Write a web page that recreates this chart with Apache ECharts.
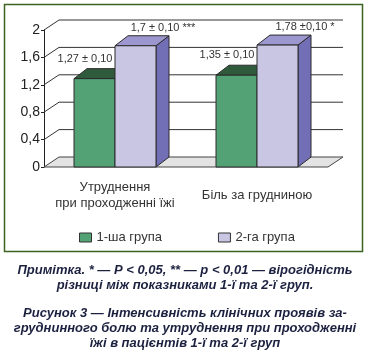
<!DOCTYPE html>
<html>
<head>
<meta charset="utf-8">
<script src="https://cdn.jsdelivr.net/npm/echarts@6/dist/echarts.min.js"></script>
<style>
  html, body { margin: 0; padding: 0; background: #fff; }
  #main { width: 370px; height: 352px; }
</style>
</head>
<body>
<div id="main"></div>
<script>
// дані
var categories = ['Утруднення\nпри проходженні їжі', 'Біль за грудниною'];
var seriesNames = ['1-ша група', '2-га група'];
var group1 = [1.29, 1.34];
var group2 = [1.77, 1.78];
var labels1 = ['1,27 ± 0,10', '1,35 ± 0,10'];
var labels2 = ['1,7 ± 0,10 ***', '1,78 ±0,10 *'];
var yTicks = [0, 0.4, 0.8, 1.2, 1.6, 2];
var noteLines = ['Примітка. * — P < 0,05, ** — p < 0,01 — вірогідність', 'різниці між показниками 1-ї та 2-ї груп.'];
var captionLines = ['Рисунок 3 — Інтенсивність клінічних проявів за-', 'груднинного болю та утруднення при проходженні', 'їжі в пацієнтів 1-ї та 2-ї груп'];

var sans = '"Liberation Sans", Arial, sans-serif';
var BW = 41, DX = 13, DY = 10;   // ширина та глибина стовпчиків
var WX = 15, WY = 10;            // глибина стінки

function wallItem(params, api) {
    var cs = params.coordSys;
    var v = api.value(1);
    var y = api.coord([0, v])[1];
    var x = cs.x, w = cs.width;
    if (v === 0) {
        return {
            type: 'polygon',
            shape: { points: [[x, y], [x + WX, y - WY], [x + w + WX, y - WY], [x + w, y]] },
            style: { fill: '#e3e3e3', stroke: '#444', lineWidth: 1 }
        };
    }
    return {
        type: 'polyline',
        shape: { points: [[x, y], [x + WX, y - WY], [x + w + WX, y - WY]] },
        style: { fill: null, stroke: '#333', lineWidth: 1 }
    };
}

function barItem(off, front, topC, sideC, labels, ldx, ldy) {
    return function (params, api) {
        var c = api.coord([api.value(0), api.value(1)]);
        var b = api.coord([api.value(0), 0]);
        var x0 = c[0] + off, x1 = x0 + BW, top = c[1], bot = b[1];
        return {
            type: 'group',
            children: [
                { type: 'polygon', shape: { points: [[x1, top], [x1 + DX, top - DY], [x1 + DX, bot - DY], [x1, bot]] },
                  style: { fill: sideC, stroke: '#2b2b2b', lineWidth: 1 } },
                { type: 'polygon', shape: { points: [[x0, top], [x0 + DX, top - DY], [x1 + DX, top - DY], [x1, top]] },
                  style: { fill: topC, stroke: '#2b2b2b', lineWidth: 1 } },
                { type: 'rect', shape: { x: x0, y: top, width: BW, height: bot - top },
                  style: { fill: front, stroke: '#2b2b2b', lineWidth: 1 } },
                { type: 'text', x: c[0] + ldx, y: top + ldy,
                  style: { text: labels[params.dataIndex], font: '11px ' + sans, fill: '#333',
                           align: 'center', verticalAlign: 'middle' } }
            ]
        };
    };
}

var chart = echarts.init(document.getElementById('main'));
chart.setOption({
    animation: false,
    grid: { left: 44, right: 42, top: 30, bottom: 185 },
    legend: {
        data: seriesNames,
        left: 74, top: 226,
        icon: 'rect', itemWidth: 12, itemHeight: 9, itemGap: 56,
        itemStyle: { borderColor: '#333', borderWidth: 1 },
        textStyle: { fontSize: 13, color: '#333', fontFamily: sans }
    },
    xAxis: {
        type: 'category',
        data: categories,
        axisLine: { show: false },
        axisTick: { show: false },
        axisLabel: { interval: 0, margin: 28, verticalAlign: 'middle', lineHeight: 16, fontSize: 13, color: '#333', fontFamily: sans }
    },
    yAxis: {
        type: 'value', min: 0, max: 2, interval: 0.4,
        axisLine: { show: true, lineStyle: { color: '#222' } },
        axisTick: { show: true, length: 3, lineStyle: { color: '#222' } },
        splitLine: { show: false },
        axisLabel: {
            margin: 4, fontSize: 14, color: '#222', fontFamily: sans,
            formatter: function (v) { return String(+v.toFixed(1)).replace('.', ','); }
        }
    },
    graphic: [
        { type: 'rect', shape: { x: 4.5, y: 4.5, width: 358, height: 247 },
          style: { fill: null, stroke: '#3b6320', lineWidth: 1.5 } },
        { type: 'text', x: 185, y: 263,
          style: { text: noteLines.join('\n'), font: 'italic bold 13px ' + sans,
                   fill: '#1c2140', align: 'center', lineHeight: 15 } },
        { type: 'text', x: 185, y: 306,
          style: { text: captionLines.join('\n'), font: 'italic bold 13px ' + sans,
                   fill: '#1c2140', align: 'center', lineHeight: 15 } }
    ],
    series: [
        { type: 'custom', name: 'wall', z: 1, clip: false, silent: true,
          data: yTicks.map(function (v) { return [0, v]; }), renderItem: wallItem },
        { type: 'custom', name: seriesNames[0], z: 2, clip: false,
          itemStyle: { color: '#52a276' },
          data: group1.map(function (v, i) { return [i, v]; }),
          renderItem: barItem(-BW, '#52a276', '#2f5b3c', '#2f5b3c', labels1, -30, -20) },
        { type: 'custom', name: seriesNames[1], z: 3, clip: false,
          itemStyle: { color: '#c9c6e4' },
          data: group2.map(function (v, i) { return [i, v]; }),
          renderItem: barItem(0, '#c9c6e4', '#9d97cf', '#736fb6', labels2, 48, -18) }
    ]
});
</script>
</body>
</html>
